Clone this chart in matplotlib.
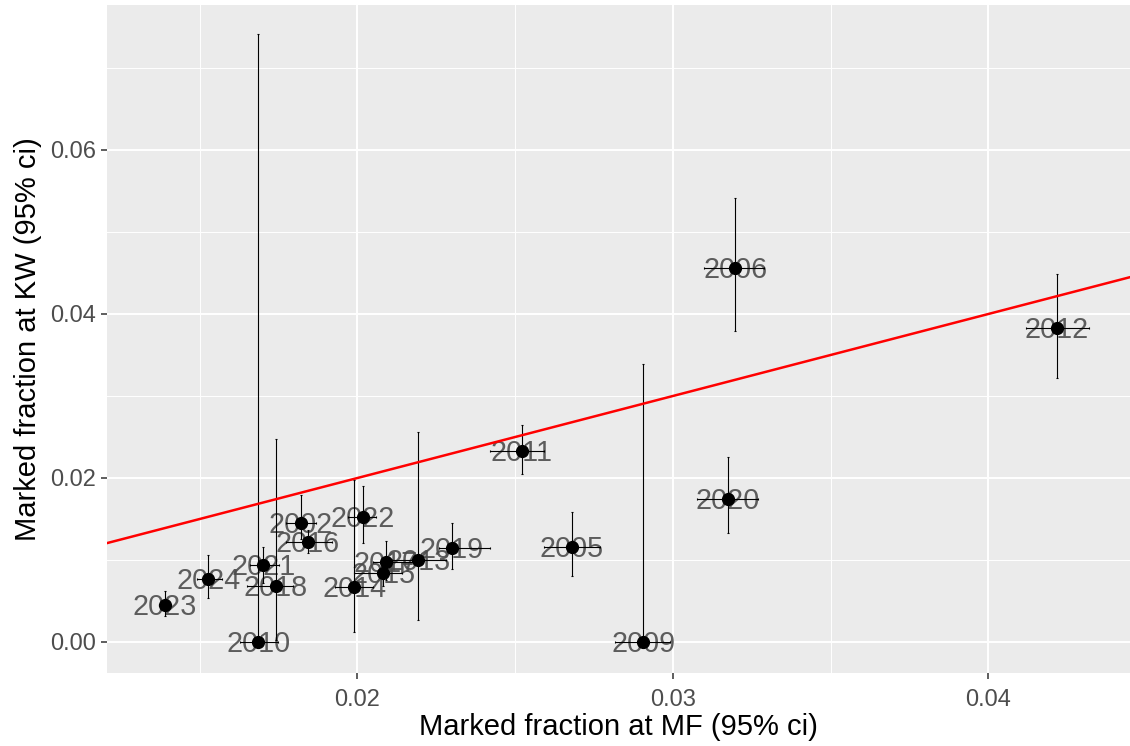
import numpy as np
import matplotlib.pyplot as plt
from matplotlib.ticker import FixedLocator

# anni e frazioni marcate (MF = x, KW = y) con intervalli 95%
years = ['2023', '2024', '2021', '2018', '2010', '2002', '2016', '2022', '2014',
         '2017', '2015', '2013', '2019', '2011', '2005', '2009', '2020', '2006', '2012']
mf = [0.0139, 0.01527, 0.01701, 0.01741, 0.01686, 0.0182, 0.01842, 0.02016, 0.0199,
      0.0209, 0.02082, 0.02193, 0.02299, 0.0252, 0.02679, 0.02906, 0.03175, 0.03197, 0.04216]
mf_lo = [0.0137, 0.0149, 0.0166, 0.0165, 0.01628, 0.01775, 0.01775, 0.0197, 0.0193,
         0.0205, 0.0199, 0.0211, 0.0226, 0.0242, 0.0259, 0.02816, 0.03075, 0.0310, 0.0412]
mf_hi = [0.0141, 0.0157, 0.0175, 0.01796, 0.01748, 0.0187, 0.0192, 0.0206, 0.0205,
         0.0219, 0.0214, 0.0228, 0.0242, 0.0259, 0.0277, 0.0299, 0.0327, 0.0329, 0.0432]
kw = [0.00451, 0.00768, 0.00939, 0.00683, 0.0, 0.01455, 0.01223, 0.01521, 0.00675,
      0.00979, 0.00838, 0.0100, 0.01143, 0.02333, 0.01155, 0.0, 0.01744, 0.04557, 0.03825]
kw_lo = [0.00317, 0.00533, 0.0072, 0.0003, 0.0, 0.0125, 0.01082, 0.01204, 0.00126,
         0.0075, 0.0068, 0.00268, 0.00887, 0.02049, 0.00809, 0.0, 0.0133, 0.03796, 0.03223]
kw_hi = [0.00622, 0.0106, 0.01163, 0.0248, 0.0741, 0.01793, 0.01366, 0.01902, 0.01976,
         0.01235, 0.0102, 0.02557, 0.01447, 0.02646, 0.01589, 0.0339, 0.0226, 0.0541, 0.04488]

mf = np.array(mf)
kw = np.array(kw)

plt.rcParams['font.family'] = ['Liberation Sans', 'DejaVu Sans']

fig = plt.figure(figsize=(11.3, 7.46), dpi=100)
ax = fig.add_axes([0.0947, 0.0983, 0.9053, 0.895])
ax.set_facecolor('#EBEBEB')

# etichette degli anni (sotto le barre), centrate verticalmente sulle cifre
for x, y, t in zip(mf, kw, years):
    ax.annotate(t, (x, y), xytext=(0, -7.3), textcoords='offset points',
                fontsize=20.7, color='#4d4d4d', alpha=0.9,
                ha='center', va='baseline', zorder=2, annotation_clip=False)

# barre di errore
ax.errorbar(mf, kw,
            yerr=[kw - np.array(kw_lo), np.array(kw_hi) - kw],
            xerr=[mf - np.array(mf_lo), np.array(mf_hi) - mf],
            fmt='none', ecolor='black', elinewidth=0.8, capsize=1, capthick=0.8, zorder=3)
ax.plot(mf, kw, 'o', color='black', ms=8.5, zorder=4)

# retta y = x
ax.axline((0, 0), slope=1, color='red', lw=1.8, zorder=3)

ax.set_xlim(0.01206, 0.04449)
ax.set_ylim(-0.00374, 0.07768)

ax.xaxis.set_major_locator(FixedLocator([0.02, 0.03, 0.04]))
ax.xaxis.set_minor_locator(FixedLocator([0.015, 0.025, 0.035]))
ax.yaxis.set_major_locator(FixedLocator([0.0, 0.02, 0.04, 0.06]))
ax.yaxis.set_minor_locator(FixedLocator([0.01, 0.03, 0.05, 0.07]))
ax.set_xticklabels(['0.02', '0.03', '0.04'])
ax.set_yticklabels(['0.00', '0.02', '0.04', '0.06'])

ax.grid(which='major', color='white', lw=1.4, zorder=0)
ax.grid(which='minor', color='white', lw=0.7, zorder=0)
ax.set_axisbelow(True)
for s in ax.spines.values():
    s.set_visible(False)

ax.tick_params(which='major', length=4, width=1.1, color='#333333',
               labelsize=17, labelcolor='#4d4d4d', pad=4)
ax.tick_params(axis='x', which='major', pad=8)
ax.tick_params(which='minor', length=0)

ax.set_xlabel('Marked fraction at MF (95% ci)', fontsize=21, color='black', labelpad=1)
ax.set_ylabel('Marked fraction at KW (95% ci)', fontsize=21, color='black', labelpad=6)

fig.savefig('out.png', dpi=100)
